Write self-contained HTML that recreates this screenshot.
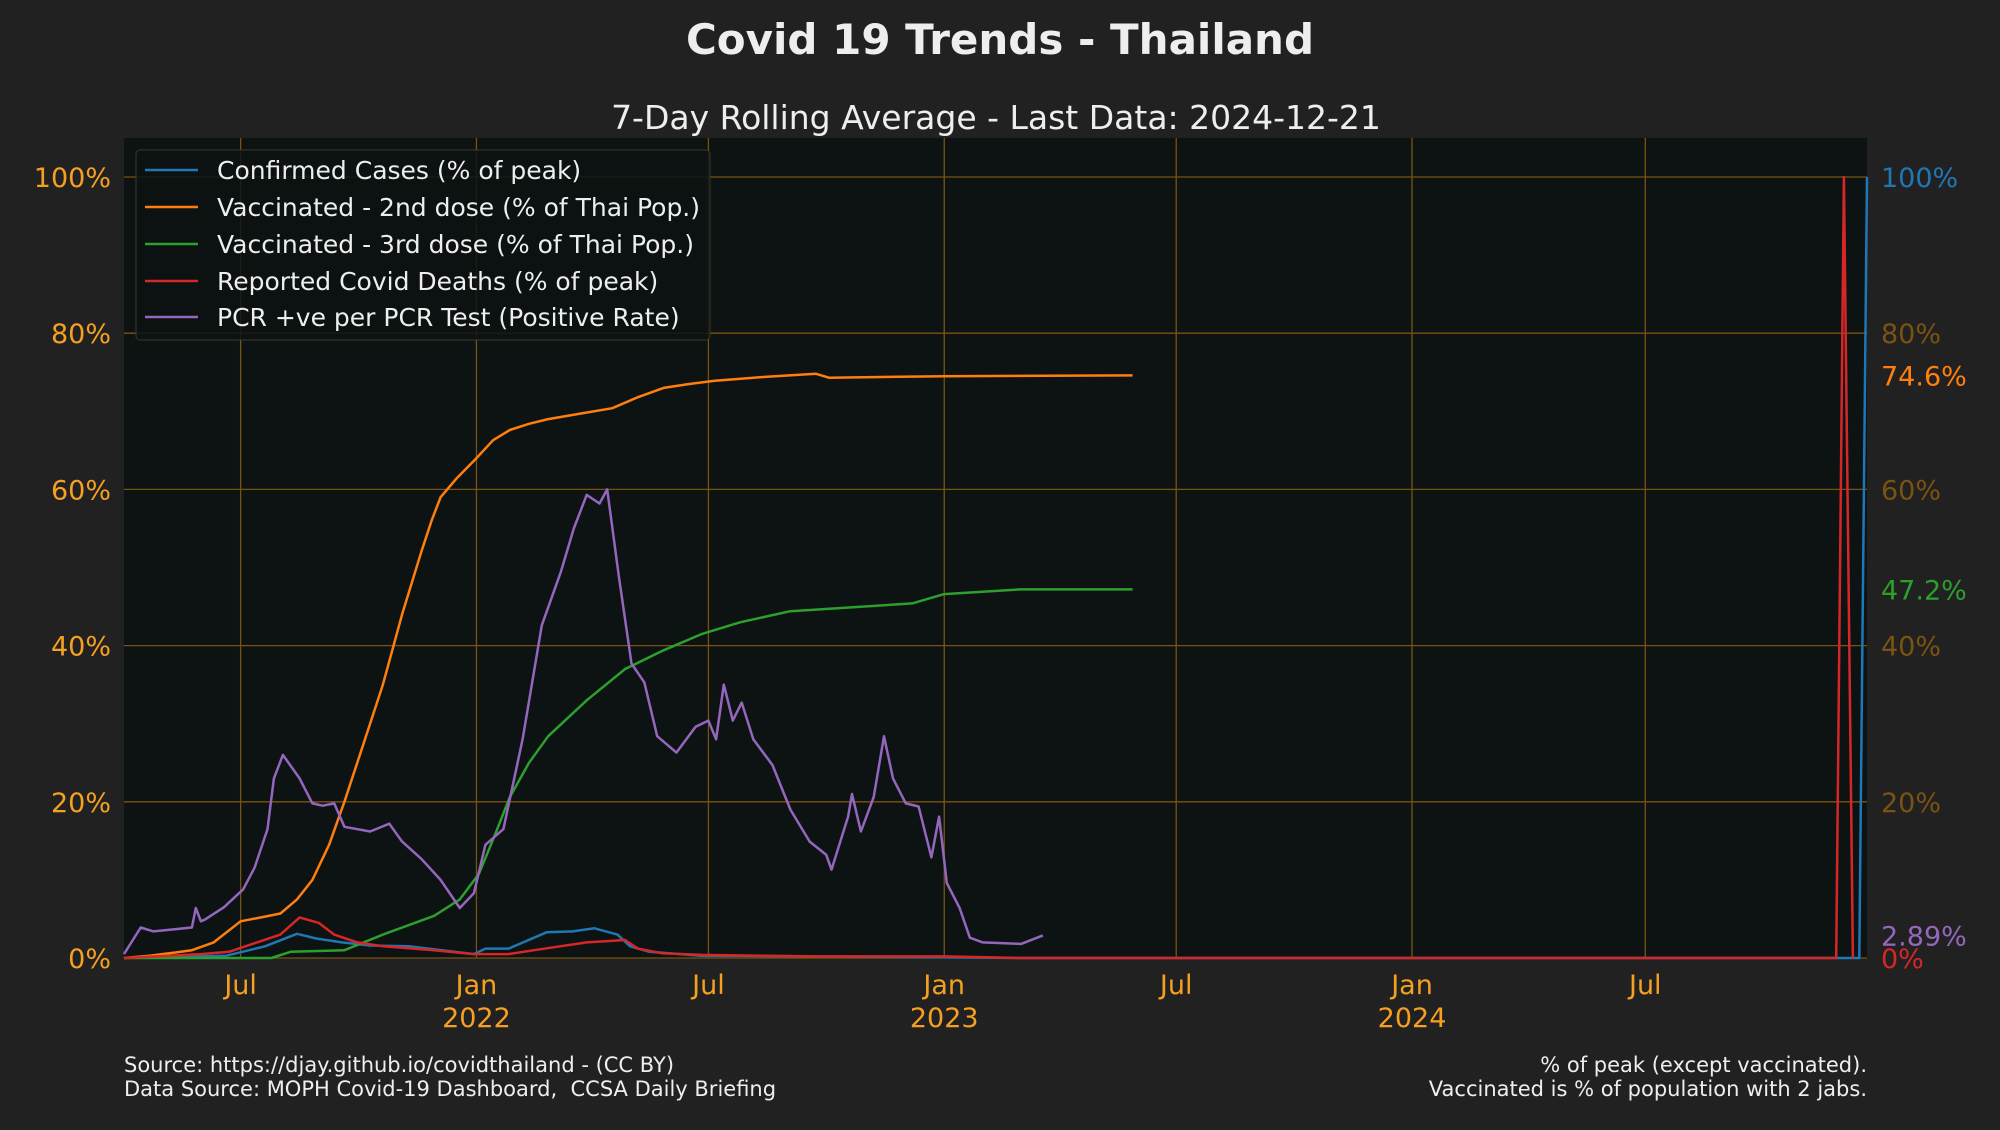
<!DOCTYPE html>
<html><head><meta charset="utf-8"><style>
html,body{margin:0;padding:0;background:#212121;}
svg{display:block;font-family:"DejaVu Sans","Liberation Sans",sans-serif;}
</style></head><body>
<svg id="chart" width="2000" height="1130" viewBox="0 0 2000 1130">
<rect x="0" y="0" width="2000" height="1130" fill="#212121"/>
<text x="1000" y="54" text-anchor="middle" fill="#eeeeee" font-size="42" font-weight="bold">Covid 19 Trends - Thailand</text>
<text x="996" y="129" text-anchor="middle" fill="#eeeeee" font-size="33">7-Day Rolling Average - Last Data: 2024-12-21</text>
<rect x="124" y="138" width="1743" height="820" fill="#0d1213"/>
<g id="grid"></g>
<g id="series"></g>
<g id="axes"></g>
<g>
<rect x="136" y="150" width="574" height="190" rx="4" fill="#0d1213" fill-opacity="0.85" stroke="#3a3a2a"/>
<line x1="145" y1="170" x2="198" y2="170" stroke="#1f77b4" stroke-width="2.5"/>
<text x="217" y="179" fill="#eeeeee" font-size="25">Confirmed Cases (% of peak)</text>
<line x1="145" y1="207" x2="198" y2="207" stroke="#ff7f0e" stroke-width="2.5"/>
<text x="217" y="216" fill="#eeeeee" font-size="25">Vaccinated - 2nd dose (% of Thai Pop.)</text>
<line x1="145" y1="244" x2="198" y2="244" stroke="#2ca02c" stroke-width="2.5"/>
<text x="217" y="253" fill="#eeeeee" font-size="25">Vaccinated - 3rd dose (% of Thai Pop.)</text>
<line x1="145" y1="281" x2="198" y2="281" stroke="#d62728" stroke-width="2.5"/>
<text x="217" y="290" fill="#eeeeee" font-size="25">Reported Covid Deaths (% of peak)</text>
<line x1="145" y1="317" x2="198" y2="317" stroke="#9467bd" stroke-width="2.5"/>
<text x="217" y="326" fill="#eeeeee" font-size="25">PCR +ve per PCR Test (Positive Rate)</text>
</g>
<text x="124" y="1072" fill="#eeeeee" font-size="21">Source: https://djay.github.io/covidthailand - (CC BY)</text>
<text x="124" y="1096" fill="#eeeeee" font-size="21">Data Source: MOPH Covid-19 Dashboard,&#160; CCSA Daily Briefing</text>
<text x="1867" y="1072" text-anchor="end" fill="#eeeeee" font-size="21">% of peak (except vaccinated).</text>
<text x="1867" y="1096" text-anchor="end" fill="#eeeeee" font-size="21">Vaccinated is % of population with 2 jabs.</text>
</svg>
<script>
// days since 2021-04-01
const yTicks = [0, 20, 40, 60, 80, 100];
const xTickDays = [91, 275, 456, 640, 821, 1005, 1187];
const xTickMonths = ["Jul", "Jan", "Jul", "Jan", "Jul", "Jan", "Jul"];
const xTickYears = ["", "2022", "", "2023", "", "2024", ""];
const rightLabels = ["100%", "80%", "74.6%", "60%", "47.2%", "40%", "20%", "2.89%", "0%"];
const rightLabelValues = [100, 80, 74.6, 60, 47.2, 40, 20, 2.89, 0];
const rightLabelColors = ["#1f77b4", "#7a5312", "#ff7f0e", "#7a5312", "#2ca02c", "#7a5312", "#7a5312", "#9467bd", "#d62728"];

const vax2Days = [0, 20, 40, 53, 70, 91, 110, 122, 135, 147, 160, 172, 187, 202, 217, 232, 240, 247, 260, 275, 288, 301, 316, 331, 356, 381, 401, 421, 441, 461, 500, 540, 550, 640, 787];
const vax2Vals = [0, 0.3, 0.7, 1, 2, 4.7, 5.3, 5.7, 7.5, 10, 14.5, 20, 27.5, 35, 44, 52, 56, 59, 61.5, 64, 66.3, 67.6, 68.4, 69, 69.7, 70.4, 71.8, 73, 73.5, 73.9, 74.4, 74.8, 74.3, 74.5, 74.6];
const vax3Days = [0, 115, 130, 172, 202, 242, 262, 277, 290, 301, 316, 331, 361, 391, 421, 451, 481, 520, 615, 640, 699, 787];
const vax3Vals = [0, 0, 0.8, 1, 3, 5.4, 7.5, 10.8, 16, 20.6, 25, 28.4, 33, 37, 39.4, 41.5, 43, 44.4, 45.4, 46.6, 47.2, 47.2];
const pcrDays = [0, 13, 23, 53, 56, 60, 63, 78, 93, 102, 112, 117, 124, 137, 147, 155, 164, 172, 192, 207, 217, 232, 247, 262, 273, 282, 296, 311, 326, 341, 351, 361, 371, 377, 386, 396, 406, 416, 431, 446, 456, 462, 468, 475, 482, 491, 506, 520, 535, 548, 552, 565, 568, 575, 585, 593, 600, 610, 620, 630, 636, 642, 652, 660, 670, 700, 717];
const pcrVals = [0.5, 3.9, 3.4, 3.9, 6.4, 4.7, 4.9, 6.5, 8.8, 11.6, 16.5, 23, 26, 23, 19.8, 19.5, 19.8, 16.8, 16.2, 17.2, 14.9, 12.7, 10, 6.4, 8.3, 14.5, 16.5, 28, 42.6, 49.5, 55, 59.3, 58.2, 60, 49, 37.7, 35.3, 28.4, 26.3, 29.6, 30.4, 28, 35, 30.4, 32.7, 28, 24.7, 19, 14.9, 13.2, 11.3, 18.1, 21, 16.2, 20.6, 28.4, 23, 19.8, 19.4, 12.9, 18.1, 9.6, 6.4, 2.6, 2, 1.8, 2.9];
const casesDays = [0, 80, 110, 135, 150, 170, 192, 222, 273, 282, 300, 330, 350, 367, 385, 395, 410, 450, 550, 640, 700, 1354, 1360];
const casesVals = [0, 0.3, 1.5, 3.1, 2.5, 2, 1.6, 1.5, 0.5, 1.2, 1.2, 3.3, 3.4, 3.8, 3, 1.5, 0.8, 0.3, 0.2, 0.1, 0, 0, 100];
const deathsDays = [0, 60, 82, 122, 137, 152, 164, 182, 202, 242, 273, 300, 320, 361, 391, 401, 420, 451, 540, 640, 700, 1336, 1342, 1349];
const deathsVals = [0, 0.5, 0.8, 3, 5.2, 4.5, 3, 2, 1.5, 1, 0.5, 0.5, 1, 2, 2.3, 1.2, 0.6, 0.4, 0.2, 0.2, 0, 0, 100, 0];

const X0 = 124, X1 = 1867, DMAX = 1360;
const Y0 = 958, Y100 = 177;
const xs = d => X0 + (X1 - X0) * d / DMAX;
const ys = v => Y0 + (Y100 - Y0) * v / 100;
const NS = "http://www.w3.org/2000/svg";
const grid = document.getElementById("grid");
const axes = document.getElementById("axes");
const series = document.getElementById("series");
const gridColor = "#7a5312";

yTicks.forEach(v => {
  const l = document.createElementNS(NS, "line");
  l.setAttribute("x1", X0); l.setAttribute("x2", X1);
  l.setAttribute("y1", ys(v)); l.setAttribute("y2", ys(v));
  l.setAttribute("stroke", gridColor); l.setAttribute("stroke-width", "1.3");
  
  
  grid.appendChild(l);
  const t = document.createElementNS(NS, "text");
  t.setAttribute("x", 111); t.setAttribute("y", ys(v) + 10);
  t.setAttribute("text-anchor", "end"); t.setAttribute("fill", "#f5a020");
  t.setAttribute("font-size", "27");
  t.textContent = v + "%";
  
  
  axes.appendChild(t);
});
xTickDays.forEach((d, i) => {
  const l = document.createElementNS(NS, "line");
  l.setAttribute("x1", xs(d)); l.setAttribute("x2", xs(d));
  l.setAttribute("y1", 138); l.setAttribute("y2", Y0);
  l.setAttribute("stroke", gridColor); l.setAttribute("stroke-width", "1.3");
  
  
  grid.appendChild(l);
  const t = document.createElementNS(NS, "text");
  t.setAttribute("x", xs(d)); t.setAttribute("y", 994);
  t.setAttribute("text-anchor", "middle"); t.setAttribute("fill", "#f5a020");
  t.setAttribute("font-size", "27");
  t.textContent = xTickMonths[i];
  
  
  axes.appendChild(t);
  if (xTickYears[i]) {
    const y = document.createElementNS(NS, "text");
    y.setAttribute("x", xs(d)); y.setAttribute("y", 1027);
    y.setAttribute("text-anchor", "middle"); y.setAttribute("fill", "#f5a020");
    y.setAttribute("font-size", "27");
    y.textContent = xTickYears[i];
    
    
    axes.appendChild(y);
  }
});
rightLabels.forEach((s, i) => {
  const t = document.createElementNS(NS, "text");
  t.setAttribute("x", 1881); t.setAttribute("y", ys(rightLabelValues[i]) + 10);
  t.setAttribute("fill", rightLabelColors[i]); t.setAttribute("font-size", "27");
  t.textContent = s;
  
  
  axes.appendChild(t);
});
function drawLine(days, vals, color, name) {
  const p = document.createElementNS(NS, "polyline");
  p.setAttribute("points", days.map((d, i) => xs(d).toFixed(1) + "," + ys(vals[i]).toFixed(1)).join(" "));
  p.setAttribute("fill", "none"); p.setAttribute("stroke", color);
  p.setAttribute("stroke-width", "2.5"); p.setAttribute("stroke-linejoin", "round");
  
  
  series.appendChild(p);
}
drawLine(casesDays, casesVals, "#1f77b4", "cases-line");
drawLine(vax2Days, vax2Vals, "#ff7f0e", "vax2-line");
drawLine(vax3Days, vax3Vals, "#2ca02c", "vax3-line");
drawLine(deathsDays, deathsVals, "#d62728", "deaths-line");
drawLine(pcrDays, pcrVals, "#9467bd", "pcr-line");
</script>
</body></html>
